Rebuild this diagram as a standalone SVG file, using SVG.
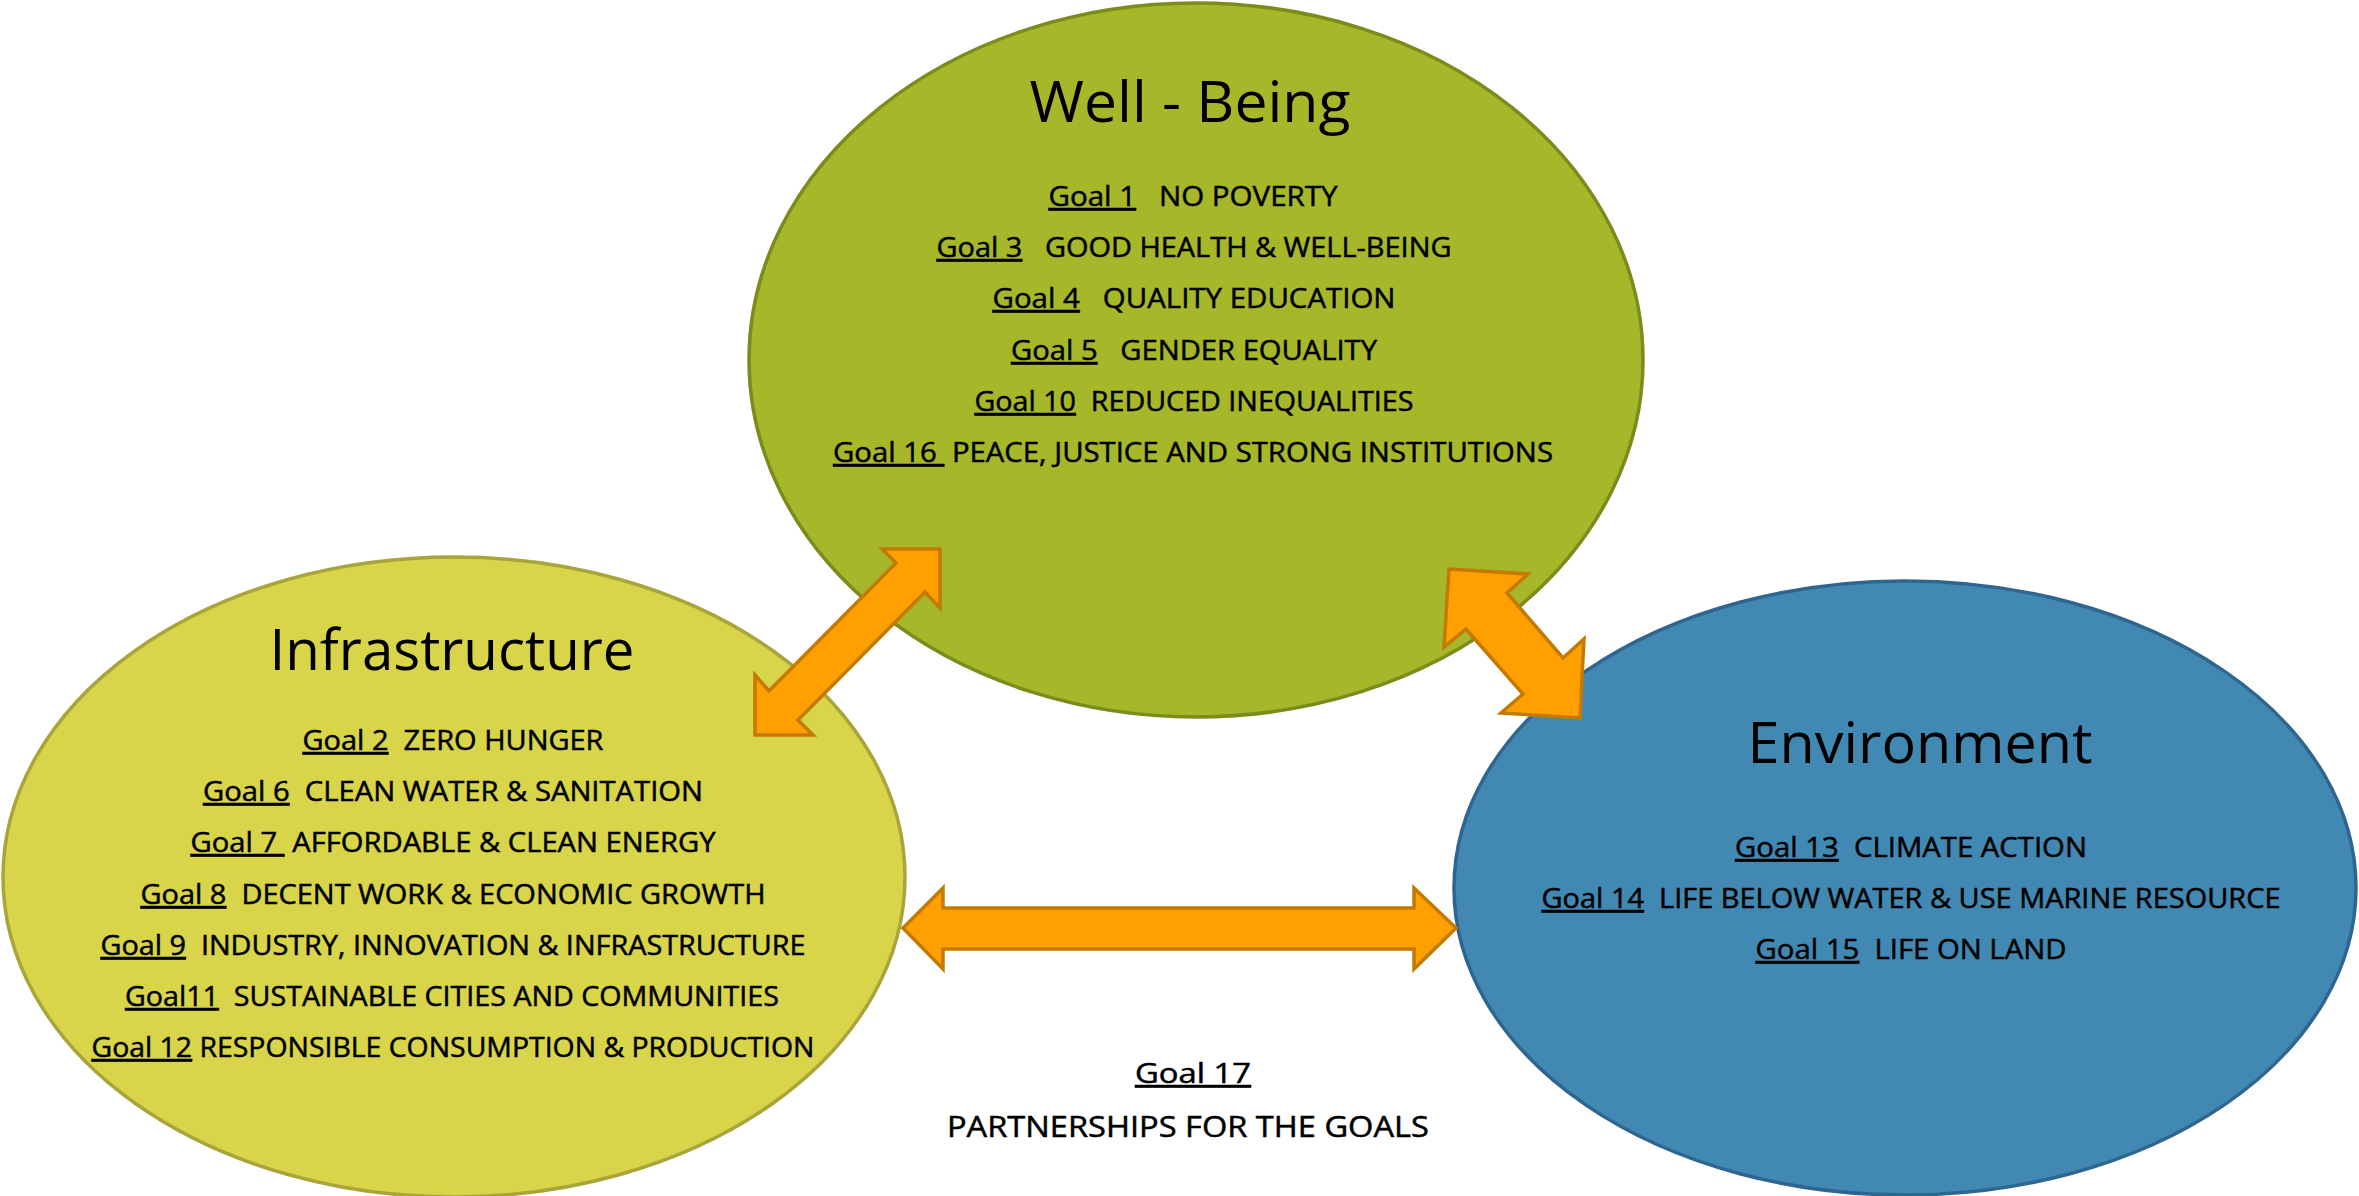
<svg xmlns="http://www.w3.org/2000/svg" width="2359" height="1196" viewBox="0 0 2359 1196">
<style>
.bg{fill:#ffffff}
.node{stroke-width:3.5}
.wb{fill:#A6B82A;stroke:#7B8B1C}
.inf{fill:#D8D54A;stroke:#A9A53A}
.env{fill:#4189B3;stroke:#2F6690}
text{font-family:"Open Sans","Noto Sans","Liberation Sans",sans-serif;fill:#000000}
.title{font-size:56px;text-anchor:middle}
.goal{font-size:27px;text-anchor:middle;stroke:#000000;stroke-width:0.5}
.u{text-decoration:underline}
.arrow{fill:#FF9F00;stroke:#C47A00;stroke-width:3.5;stroke-linejoin:miter}
</style>
<rect class="bg" x="0" y="0" width="2359" height="1196"/>
<g id="well-being">
<ellipse class="node wb" cx="1196" cy="360" rx="447" ry="357"/>
<text class="title" x="1190" y="122" textLength="321" lengthAdjust="spacingAndGlyphs">Well - Being</text>
<text class="goal" x="1193" y="206" textLength="289" lengthAdjust="spacingAndGlyphs" xml:space="preserve"><tspan class="u">Goal 1</tspan>   NO POVERTY</text>
<text class="goal" x="1194" y="257" textLength="515" lengthAdjust="spacingAndGlyphs" xml:space="preserve"><tspan class="u">Goal 3</tspan>   GOOD HEALTH &amp; WELL-BEING</text>
<text class="goal" x="1194" y="308" textLength="403" lengthAdjust="spacingAndGlyphs" xml:space="preserve"><tspan class="u">Goal 4</tspan>   QUALITY EDUCATION</text>
<text class="goal" x="1194" y="360" textLength="366" lengthAdjust="spacingAndGlyphs" xml:space="preserve"><tspan class="u">Goal 5</tspan>   GENDER EQUALITY</text>
<text class="goal" x="1194" y="411" textLength="439" lengthAdjust="spacingAndGlyphs" xml:space="preserve"><tspan class="u">Goal 10</tspan>  REDUCED INEQUALITIES</text>
<text class="goal" x="1193" y="462" textLength="720" lengthAdjust="spacingAndGlyphs" xml:space="preserve"><tspan class="u">Goal 16 </tspan> PEACE, JUSTICE AND STRONG INSTITUTIONS</text>
</g>
<g id="infrastructure">
<ellipse class="node inf" cx="454" cy="877" rx="451" ry="320"/>
<text class="title" x="452" y="670" textLength="365" lengthAdjust="spacingAndGlyphs">Infrastructure</text>
<text class="goal" x="453" y="750" textLength="301" lengthAdjust="spacingAndGlyphs" xml:space="preserve"><tspan class="u">Goal 2</tspan>  ZERO HUNGER</text>
<text class="goal" x="453" y="801" textLength="500" lengthAdjust="spacingAndGlyphs" xml:space="preserve"><tspan class="u">Goal 6</tspan>  CLEAN WATER &amp; SANITATION</text>
<text class="goal" x="453" y="852" textLength="525" lengthAdjust="spacingAndGlyphs" xml:space="preserve"><tspan class="u">Goal 7 </tspan> AFFORDABLE &amp; CLEAN ENERGY</text>
<text class="goal" x="453" y="904" textLength="625" lengthAdjust="spacingAndGlyphs" xml:space="preserve"><tspan class="u">Goal 8</tspan>  DECENT WORK &amp; ECONOMIC GROWTH</text>
<text class="goal" x="453" y="955" textLength="705" lengthAdjust="spacingAndGlyphs" xml:space="preserve"><tspan class="u">Goal 9</tspan>  INDUSTRY, INNOVATION &amp; INFRASTRUCTURE</text>
<text class="goal" x="452" y="1006" textLength="654" lengthAdjust="spacingAndGlyphs" xml:space="preserve"><tspan class="u">Goal11</tspan>  SUSTAINABLE CITIES AND COMMUNITIES</text>
<text class="goal" x="453" y="1057" textLength="723" lengthAdjust="spacingAndGlyphs" xml:space="preserve"><tspan class="u">Goal 12</tspan> RESPONSIBLE CONSUMPTION &amp; PRODUCTION</text>
</g>
<g id="environment">
<ellipse class="node env" cx="1905" cy="888" rx="451" ry="307"/>
<text class="title" x="1920" y="763" textLength="345" lengthAdjust="spacingAndGlyphs">Environment</text>
<text class="goal" x="1911" y="857" textLength="352" lengthAdjust="spacingAndGlyphs" xml:space="preserve"><tspan class="u">Goal 13</tspan>  CLIMATE ACTION</text>
<text class="goal" x="1911" y="908" textLength="739" lengthAdjust="spacingAndGlyphs" xml:space="preserve"><tspan class="u">Goal 14</tspan>  LIFE BELOW WATER &amp; USE MARINE RESOURCE</text>
<text class="goal" x="1911" y="959" textLength="311" lengthAdjust="spacingAndGlyphs" xml:space="preserve"><tspan class="u">Goal 15</tspan>  LIFE ON LAND</text>
</g>
<g id="partnerships">
<text class="goal" x="1193" y="1083" textLength="116" lengthAdjust="spacingAndGlyphs"><tspan class="u">Goal 17</tspan></text>
<text class="goal" x="1188" y="1137" textLength="482" lengthAdjust="spacingAndGlyphs" style="font-size:29px">PARTNERSHIPS FOR THE GOALS</text>
</g>
<g id="connectors">
<path class="arrow" d="M882,549 L940,549 L940,608 L925,592 L798,720 L813,735 L755,735 L755,675 L769,691 L896,563 Z"/>
<path class="arrow" d="M1449,569 L1528,574 L1507,593 L1563,658 L1584,639 L1580,718 L1501,713 L1523,694 L1466,629 L1444,647 Z"/>
<path class="arrow" d="M903,928 L943,888 L943,908 L1414,908 L1414,888 L1456,928 L1414,969 L1414,949 L943,949 L943,969 Z"/>
</g>
</svg>
